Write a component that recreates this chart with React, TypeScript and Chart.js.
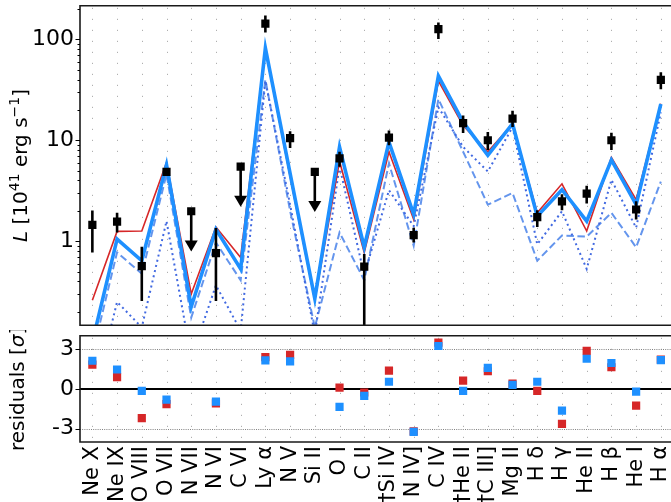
import { useEffect, useRef } from "react";
import { Chart, registerables } from "chart.js";

Chart.register(...registerables);

// ---------------- data ----------------
const lineLabels = [
  "Ne X", "Ne IX", "O VIII", "O VII", "N VII", "N VI", "C VI", "Ly α",
  "N V", "Si II", "O I", "C II", "†Si IV", "N IV]", "C IV", "†He II",
  "†C III]", "Mg II", "H δ", "H γ", "He II", "H β", "He I", "H α",
];

// observed luminosities [1e41 erg/s]
const observed = [
  1.45, 1.56, 0.565, 4.86, 1.98, 0.76, 5.47, 143,
  10.5, 4.86, 6.6, 0.56, 10.6, 1.15, 126, 14.8,
  10.0, 16.4, 1.73, 2.48, 2.96, 10.0, 2.06, 39.6,
];
const observedLow = [
  0.774, 1.22, 0.256, 4.5, null, 0.256, null, 117,
  8.4, null, 5.47, 0.1, 8.9, 0.97, 101, 11.8,
  8.0, 13.5, 1.38, 2.03, 2.36, 8.0, 1.64, 32,
];
const observedHigh = [
  2.01, 1.91, 0.88, 5.25, null, 1.35, null, 172,
  12.3, null, 7.7, 0.745, 12.5, 1.36, 147, 17.6,
  12.1, 19.6, 2.03, 2.91, 3.54, 11.9, 2.48, 47.3,
];
const upperLimit = [
  false, false, false, false, true, false, true, false,
  false, true, false, false, false, false, false, false,
  false, false, false, false, false, false, false, false,
];
const upperLimitArrowFactor = 0.4;

// models
const modelTotal = [
  0.1, 1.05, 0.64, 5.7, 0.224, 1.31, 0.53, 82,
  4.7, 0.27, 8.6, 0.87, 9.6, 1.84, 43.4, 15.1,
  7.1, 14.6, 1.77, 3.24, 1.58, 6.4, 2.3, 22.9,
];
const modelAlt = [
  0.26, 1.25, 1.26, 6.0, 0.3, 1.38, 0.69, 80,
  4.4, 0.26, 6.2, 0.77, 7.7, 1.64, 38.7, 14.0,
  7.7, 14.5, 1.91, 3.7, 1.26, 6.75, 2.58, 23,
];
const componentDashed = [
  0.075, 0.775, 0.475, 4.6, 0.175, 0.97, 0.41, 40,
  2.0, 0.14, 1.22, 0.41, 5.9, 0.9, 25.6, 7.7,
  2.3, 3.0, 0.64, 1.14, 1.11, 1.91, 0.87, 3.9,
];
const componentDotted = [
  0.025, 0.25, 0.14, 1.58, 0.07, 0.365, 0.13, 38.7,
  2.3, 0.12, 5.5, 0.46, 3.2, 1.41, 21.2, 8.6,
  4.9, 13.5, 0.93, 1.98, 0.53, 4.06, 1.36, 18.9,
];

// residuals [sigma]
const residualAlt = [
  1.83, 0.89, -2.2, -1.14, null, -1.09, null, 2.4,
  2.57, null, 0.1, -0.27, 1.38, -3.2, 3.48, 0.62,
  1.33, 0.39, -0.15, -2.64, 2.86, 1.63, -1.26, 2.2,
];
const residualTotal = [
  2.12, 1.46, -0.15, -0.81, null, -0.96, null, 2.15,
  2.07, null, -1.36, -0.52, 0.54, -3.23, 3.23, -0.15,
  1.58, 0.3, 0.54, -1.63, 2.27, 1.95, -0.2, 2.17,
];

const topTicks = [1, 10, 100];
const topRange = [0.147, 215];
const resTicks = [-3, 0, 3];
const resRange = [-4, 4];
const resGuides = [-3, 3];

// ---------------- styling ----------------
const FONT = "'DejaVu Sans', sans-serif";
const FS = 20;
const TICK_FS = 21;
const YTICK_FS = 22;
const RED = "#d62728";
const BLUE = "#1e90ff";
const DASHED = "#6495ed";
const DOTTED = "#4169e1";
const AXIS_W = 80;
const CANVAS_W = 679;

const pts = (arr: (number | null)[]) => arr.map((v, i) => ({ x: i, y: v }));

type Part = { t: string; italic?: boolean; sup?: boolean };

function drawRotatedTitle(ctx: CanvasRenderingContext2D, cx: number, cy: number, parts: Part[]) {
  ctx.save();
  ctx.translate(cx, cy);
  ctx.rotate(-Math.PI / 2);
  ctx.fillStyle = "#000";
  ctx.textBaseline = "alphabetic";
  ctx.textAlign = "left";
  const fontFor = (p: Part) =>
    `${p.italic ? "italic " : ""}${p.sup ? Math.round(FS * 0.7) : FS}px ${FONT}`;
  let total = 0;
  for (const p of parts) {
    ctx.font = fontFor(p);
    total += ctx.measureText(p.t).width;
  }
  let x = -total / 2;
  for (const p of parts) {
    ctx.font = fontFor(p);
    ctx.fillText(p.t, x, p.sup ? -8 : 0);
    x += ctx.measureText(p.t).width;
  }
  ctx.restore();
}

function drawCategoryGrid(chart: any) {
  const { ctx, chartArea: a, scales } = chart;
  ctx.save();
  ctx.strokeStyle = "#b0b0b0";
  ctx.lineWidth = 1;
  ctx.setLineDash([1.2, 9.8]);
  for (let i = 0; i < lineLabels.length; i++) {
    const px = Math.round(scales.x.getPixelForValue(i)) + 0.5;
    ctx.beginPath();
    ctx.moveTo(px, a.top + 2);
    ctx.lineTo(px, a.bottom);
    ctx.stroke();
  }
  ctx.restore();
}

function drawFrame(chart: any) {
  const { ctx, chartArea: a } = chart;
  ctx.save();
  ctx.strokeStyle = "#1a1a1a";
  ctx.lineWidth = 1.6;
  ctx.beginPath();
  ctx.moveTo(a.right + 10, a.top);
  ctx.lineTo(a.left, a.top);
  ctx.lineTo(a.left, a.bottom);
  ctx.lineTo(a.right + 10, a.bottom);
  ctx.stroke();
  ctx.restore();
}

const zeroPad = (s: any) => {
  s.paddingTop = 0;
  s.paddingBottom = 0;
  s.paddingLeft = 0;
  s.paddingRight = 0;
};

const topPlugin = {
  id: "topDecor",
  beforeDatasetsDraw(chart: any) {
    drawCategoryGrid(chart);
  },
  afterDatasetsDraw(chart: any) {
    const { ctx, chartArea: a, scales } = chart;
    const y = scales.y;
    const x = scales.x;
    ctx.save();
    ctx.beginPath();
    ctx.rect(a.left, a.top, a.right - a.left, a.bottom - a.top);
    ctx.clip();
    ctx.strokeStyle = "#000";
    ctx.fillStyle = "#000";
    ctx.lineWidth = 2.6;
    for (let i = 0; i < observed.length; i++) {
      const px = x.getPixelForValue(i);
      if (upperLimit[i]) {
        const y0 = y.getPixelForValue(observed[i]);
        const tip = y.getPixelForValue(observed[i] * upperLimitArrowFactor);
        ctx.beginPath();
        ctx.moveTo(px, y0);
        ctx.lineTo(px, tip - 8);
        ctx.stroke();
        ctx.beginPath();
        ctx.moveTo(px - 6.5, tip - 11);
        ctx.lineTo(px + 6.5, tip - 11);
        ctx.lineTo(px, tip);
        ctx.closePath();
        ctx.fill();
      } else if (observedLow[i] != null && observedHigh[i] != null) {
        ctx.beginPath();
        ctx.moveTo(px, y.getPixelForValue(observedLow[i] as number));
        ctx.lineTo(px, y.getPixelForValue(observedHigh[i] as number));
        ctx.stroke();
      }
    }
    ctx.restore();
  },
  afterDraw(chart: any) {
    const { ctx, chartArea: a, scales } = chart;
    const y = scales.y;
    drawFrame(chart);
    ctx.save();
    ctx.strokeStyle = "#000";
    ctx.lineWidth = 1;
    const [lo, hi] = topRange;
    for (let d = 0.1; d <= 1000; d *= 10) {
      for (let k = 1; k <= 9; k++) {
        const v = k * d;
        if (v < lo || v > hi) continue;
        const py = Math.round(y.getPixelForValue(v)) + 0.5;
        const len = k === 1 ? 4.5 : 2.5;
        ctx.beginPath();
        ctx.moveTo(a.left - len, py);
        ctx.lineTo(a.left, py);
        ctx.stroke();
      }
    }
    ctx.restore();
    drawRotatedTitle(ctx, 27, (a.top + a.bottom) / 2, [
      { t: "L", italic: true },
      { t: " [10" },
      { t: "41", sup: true },
      { t: " erg s" },
      { t: "−1", sup: true },
      { t: "]" },
    ]);
  },
};

const bottomPlugin = {
  id: "bottomDecor",
  beforeDatasetsDraw(chart: any) {
    const { ctx, chartArea: a, scales } = chart;
    drawCategoryGrid(chart);
    ctx.save();
    ctx.strokeStyle = "#808080";
    ctx.lineWidth = 1;
    ctx.setLineDash([1, 1.2]);
    for (const g of resGuides) {
      const py = Math.round(scales.y.getPixelForValue(g)) + 0.5;
      ctx.beginPath();
      ctx.moveTo(a.left, py);
      ctx.lineTo(a.right, py);
      ctx.stroke();
    }
    ctx.setLineDash([]);
    ctx.strokeStyle = "#000";
    ctx.lineWidth = 2;
    const p0 = scales.y.getPixelForValue(0);
    ctx.beginPath();
    ctx.moveTo(a.left, p0);
    ctx.lineTo(a.right, p0);
    ctx.stroke();
    ctx.restore();
  },
  afterDraw(chart: any) {
    const { ctx, chartArea: a, scales } = chart;
    drawFrame(chart);
    ctx.save();
    ctx.strokeStyle = "#000";
    ctx.lineWidth = 1;
    for (const t of resTicks) {
      const py = Math.round(scales.y.getPixelForValue(t)) + 0.5;
      ctx.beginPath();
      ctx.moveTo(a.left - 4.5, py);
      ctx.lineTo(a.left, py);
      ctx.stroke();
    }
    ctx.restore();
    drawRotatedTitle(ctx, 24, (a.top + a.bottom) / 2, [
      { t: "residuals [" },
      { t: "σ", italic: true },
      { t: "]" },
    ]);
  },
};

const xScaleBase = {
  type: "linear" as const,
  min: -0.5,
  max: 23.5,
  grid: { display: false },
  border: { display: false },
  afterBuildTicks: (s: any) => {
    s.ticks = lineLabels.map((_, i) => ({ value: i }));
  },
};

export default function App() {
  const topRef = useRef<HTMLCanvasElement>(null);
  const botRef = useRef<HTMLCanvasElement>(null);

  useEffect(() => {
    const top = new Chart(topRef.current as HTMLCanvasElement, {
      type: "line",
      data: {
        datasets: [
          {
            label: "observed",
            data: pts(observed),
            showLine: false,
            pointStyle: "rect",
            pointRadius: 5.8,
            pointBackgroundColor: "#000",
            pointBorderWidth: 0,
            order: 0,
          },
          {
            label: "total",
            data: pts(modelTotal),
            borderColor: BLUE,
            borderWidth: 3.6,
            pointRadius: 0,
            order: 1,
          },
          {
            label: "alt",
            data: pts(modelAlt),
            borderColor: RED,
            borderWidth: 1.6,
            pointRadius: 0,
            order: 2,
          },
          {
            label: "dotted",
            data: pts(componentDotted),
            borderColor: DOTTED,
            borderWidth: 2,
            borderDash: [2, 3.3],
            pointRadius: 0,
            order: 3,
          },
          {
            label: "dashed",
            data: pts(componentDashed),
            borderColor: DASHED,
            borderWidth: 2,
            borderDash: [7.5, 3.5],
            pointRadius: 0,
            order: 4,
          },
        ] as any,
      },
      options: {
        animation: false,
        responsive: false,
        devicePixelRatio: 1,
        events: [],
        layout: { padding: { top: 4, bottom: 4, left: 0, right: 0 } },
        plugins: { legend: { display: false }, tooltip: { enabled: false } },
        scales: {
          x: { ...xScaleBase, display: false },
          y: {
            type: "logarithmic",
            min: topRange[0],
            max: topRange[1],
            grid: { display: false, drawTicks: false },
            border: { display: false },
            afterBuildTicks: (s: any) => {
              s.ticks = topTicks.map((v) => ({ value: v }));
            },
            afterFit: (s: any) => {
              s.width = AXIS_W;
              zeroPad(s);
            },
            ticks: {
              autoSkip: false,
              padding: 6,
              color: "#000",
              font: { family: FONT, size: YTICK_FS },
              callback: (v: any) => String(v),
            },
          },
        },
      },
      plugins: [topPlugin],
    });

    const bot = new Chart(botRef.current as HTMLCanvasElement, {
      type: "line",
      data: {
        datasets: [
          {
            label: "resTotal",
            data: pts(residualTotal),
            showLine: false,
            pointStyle: "rect",
            pointRadius: 5.8,
            pointBackgroundColor: BLUE,
            pointBorderWidth: 0,
            order: 0,
          },
          {
            label: "resAlt",
            data: pts(residualAlt),
            showLine: false,
            pointStyle: "rect",
            pointRadius: 5.8,
            pointBackgroundColor: RED,
            pointBorderWidth: 0,
            order: 1,
          },
        ] as any,
      },
      options: {
        animation: false,
        responsive: false,
        devicePixelRatio: 1,
        events: [],
        layout: { padding: { top: 4, bottom: 0, left: 0, right: 0 } },
        plugins: { legend: { display: false }, tooltip: { enabled: false } },
        scales: {
          x: {
            ...xScaleBase,
            afterFit: (s: any) => {
              s.height = 60;
              zeroPad(s);
            },
            grid: { display: false, drawTicks: false },
            ticks: {
              autoSkip: false,
              minRotation: 90,
              maxRotation: 90,
              padding: 4,
              color: "#000",
              font: { family: FONT, size: TICK_FS },
              callback: (v: any) => lineLabels[v as number] ?? "",
            },
          },
          y: {
            type: "linear",
            min: resRange[0],
            max: resRange[1],
            grid: { display: false, drawTicks: false },
            border: { display: false },
            afterBuildTicks: (s: any) => {
              s.ticks = resTicks.map((v) => ({ value: v }));
            },
            afterFit: (s: any) => {
              s.width = AXIS_W;
              zeroPad(s);
            },
            ticks: {
              autoSkip: false,
              padding: 6,
              color: "#000",
              font: { family: FONT, size: YTICK_FS },
              callback: (v: any) => (v < 0 ? "-" + Math.abs(v) : String(v)),
            },
          },
        },
      },
      plugins: [bottomPlugin],
    });

    return () => {
      top.destroy();
      bot.destroy();
    };
  }, []);

  return (
    <div
      style={{
        position: "absolute",
        left: 0,
        top: 0,
        width: 671,
        height: 502,
        overflow: "hidden",
        background: "#fff",
      }}
    >
      <canvas
        ref={topRef}
        width={CANVAS_W}
        height={331}
        style={{ position: "absolute", left: 0, top: 0, width: CANVAS_W, height: 331 }}
      />
      <canvas
        ref={botRef}
        width={CANVAS_W}
        height={172}
        style={{ position: "absolute", left: 0, top: 330, width: CANVAS_W, height: 172 }}
      />
    </div>
  );
}
